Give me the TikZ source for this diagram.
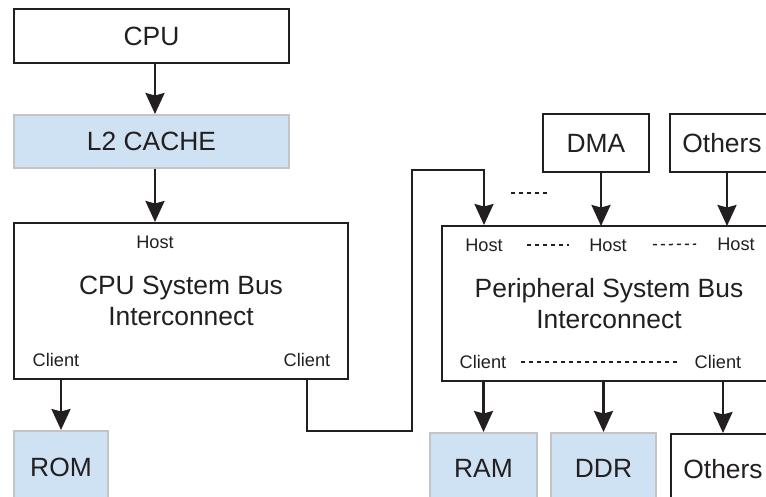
\documentclass[tikz,border=0pt]{standalone}
\usepackage{fontspec}
\setmainfont{Liberation Sans}
\usetikzlibrary{arrows.meta,calc}
\definecolor{ink}{HTML}{231F20}
\definecolor{memblue}{HTML}{CFE2F3}
\definecolor{memedge}{HTML}{C4C4C4}
\tikzset{
  blk/.style={rectangle,draw=ink,fill=white,line width=2pt,inner sep=0pt,text=ink,align=center,font=\fontsize{26.4}{31}\selectfont},
  mem/.style={rectangle,draw=memedge,fill=memblue,line width=2pt,inner sep=0pt,text=ink,font=\fontsize{26.4}{31}\selectfont},
  prt/.style={inner sep=0pt,text=ink,font=\fontsize{18.2}{21}\selectfont},
  arr/.style={-{Stealth[length=21pt,width=19pt,inset=2.5pt]},draw=ink,line width=2.5pt},
  lnk/.style={-{Stealth[length=21pt,width=19pt,inset=2.5pt]},draw=ink,line width=2pt},
  dsh/.style={draw=ink,line width=1.5pt,dash pattern=on 4pt off 4pt},
}
\begin{document}
\begin{tikzpicture}[x=1pt,y=-1pt]
\useasboundingbox (0,0) rectangle (766,497);
\clip (0,0) rectangle (766,497);
% ---- CPU side
\node[blk,minimum width=275,minimum height=54] (cpu) at (151.5,36) {CPU};
\node[mem,minimum width=275,minimum height=53] (l2) at (151.5,141.5) {L2 CACHE};
\node[blk,minimum width=334,minimum height=156] (cbus) at (181,301) {CPU System Bus\\Interconnect};
\node[prt] (cH) at (155,242) {Host};
\node[prt] (cC1) at (56,360) {Client};
\node[prt] (cC2) at (307,360) {Client};
\node[mem,minimum width=94,minimum height=72] (rom) at (61,467) {ROM};
\draw[arr] (cpu.south -| cH) -- (l2.north -| cH);
\draw[arr] (l2.south -| cH) -- (cbus.north -| cH);
\draw[arr] (cbus.south -| rom.north) -- (rom.north);
% ---- peripheral side
\node[blk,minimum width=334,minimum height=155] (pbus) at (609,303.5) {Peripheral System Bus\\Interconnect};
\node[blk,minimum width=106,minimum height=58] (dma) at (596,143) {DMA};
\node[blk,minimum width=104,minimum height=58] (othT) at (722,143) {Others};
\node[prt] (pH1) at (484,245) {Host};
\node[prt] (pH2) at (608,245) {Host};
\node[prt] (pH3) at (736,244) {Host};
\node[prt] (pC1) at (483,362) {Client};
\node[prt] (pC2) at (718,362) {Client};
\node[mem,minimum width=107,minimum height=70] (ram) at (483.5,468) {RAM};
\node[mem,minimum width=105,minimum height=70] (ddr) at (603.5,468) {DDR};
\node[blk,minimum width=104,minimum height=70] (othB) at (723,469) {Others};
\coordinate (p2) at (601,226); \coordinate (p3) at (727,226);
\draw[arr] (dma.south -| p2) -- (p2);
\draw[arr] (othT.south -| p3) -- (p3);
\draw[arr] (pbus.south -| ram.north) -- (ram.north);
\draw[arr] (pbus.south -| ddr.north) -- (ddr.north);
\draw[arr] (pbus.south -| othB.north) -- (othB.north);
% ---- bus to bus link
\coordinate (b1) at (412,431); \coordinate (b2) at (412,170);
\draw[lnk] (cbus.south -| cC2) |- (b1) -- (b2) -| (pH1 |- pbus.north);
\draw[dsh] (511,193) -- (550,193);
\draw[dsh,shorten <=24pt,shorten >=20pt] (pH1.east) -- (pH2.west);
\draw[dsh,shorten <=26pt,shorten >=21pt] (pH2.east) -- (pH3.west);
\draw[dsh,shorten <=15pt,shorten >=15pt] (pC1.east) -- (pC2.west);
\end{tikzpicture}
\end{document}
